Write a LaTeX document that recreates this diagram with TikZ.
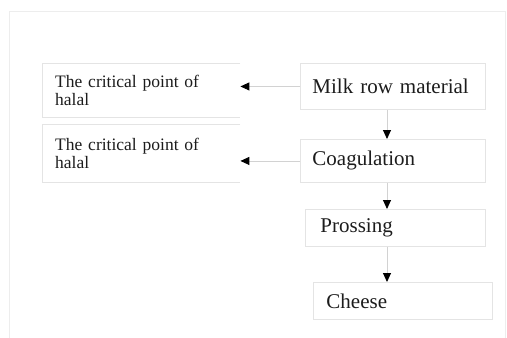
\documentclass[tikz,border=0pt]{standalone}
\usepackage{fontspec}
\setmainfont{Liberation Serif}
\usetikzlibrary{arrows.meta}
\definecolor{boxline}{HTML}{E4E4E4}
\definecolor{linkline}{HTML}{D2D2D2}
\definecolor{framecol}{HTML}{EDEDED}
\definecolor{ink}{HTML}{1C1C1C}
\tikzset{
  step box/.style={draw=boxline,line width=0.9pt,anchor=north west,text=ink,font=\fontsize{21}{25}\selectfont,align=left,inner ysep=0pt},
  crit box/.style={anchor=north west,text=ink,font=\fontsize{17.5}{18}\selectfont,align=left,inner xsep=13pt,inner ysep=0pt,minimum width=198pt,text width=172pt},
  link/.style={draw=linkline,line width=0.9pt,-{Triangle[length=9pt,width=8pt,color=black]}}
}
\begin{document}
\begin{tikzpicture}[x=1pt,y=-1pt]
\useasboundingbox (0,0) rectangle (507,338);
\draw[framecol,line width=1pt] (9,338) -- (9,11) -- (505,11) -- (505,338);
% left notes
\node[crit box,minimum height=54pt] (crit1) at (42,63) {The critical point of\\halal};
\node[crit box,minimum height=58pt] (crit2) at (42,124) {The critical point of\\halal};
\draw[boxline,line width=0.9pt] (crit1.north east) -- (crit1.north west) -- (crit1.south west) -- (crit1.south east);
\draw[boxline,line width=0.9pt] (crit2.north east) -- (crit2.north west) -- (crit2.south west) -- (crit2.south east);
% process steps
\node[step box,inner xsep=12pt,minimum width=185pt,minimum height=46pt,text width=161pt] (milk) at (300,63) {Milk row material};
\node[step box,inner xsep=12pt,minimum width=185pt,minimum height=43pt,text width=161pt] (coag) at (300,139) {Coagulation};
\node[step box,inner xsep=15pt,minimum width=180pt,minimum height=37pt,text width=150pt] (pross) at (305,209) {Prossing};
\node[step box,inner xsep=13pt,minimum width=179pt,minimum height=37pt,text width=153pt] (cheese) at (313,282) {Cheese};
\coordinate (axis) at (387,0);
% arrows
\draw[link] (milk.west) -- (crit1.east |- milk.west);
\draw[link] (coag.west) -- (crit2.east |- coag.west);
\draw[link] (milk.south -| axis) -- (coag.north -| axis);
\draw[link] (coag.south -| axis) -- (pross.north -| axis);
\draw[link] (pross.south -| axis) -- (cheese.north -| axis);
\end{tikzpicture}
\end{document}
